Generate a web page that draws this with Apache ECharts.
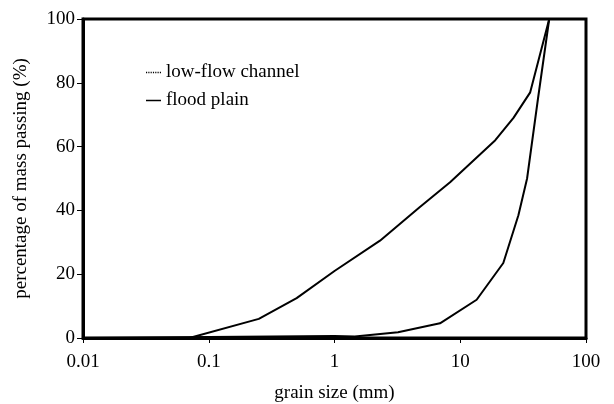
<!DOCTYPE html>
<html>
<head>
<meta charset="utf-8">
<script src="https://cdn.jsdelivr.net/npm/echarts@6/dist/echarts.min.js"></script>
<style>
  html, body { margin: 0; padding: 0; background: #fff; }
  #chart { width: 614px; height: 404px; }
</style>
</head>
<body>
<div id="chart"></div>
<script>
// grain size (mm) and % passing
var floodSize = [0.07, 0.25, 0.5, 1, 2.3, 4.75, 8.3, 19, 26.5, 36, 51];
var floodPass = [0, 6, 12.5, 21, 30.5, 41, 48.8, 62, 69, 77, 100];
var channelSize = [0.01, 1, 1.45, 3.2, 6.9, 13.5, 22, 29, 34, 41.5, 51];
var channelPass = [0, 0.6, 0.5, 1.8, 4.6, 12, 23.5, 38.5, 50, 75, 100];
var seriesNames = ['low-flow channel', 'flood plain'];
var yTicks = [0, 20, 40, 60, 80, 100];

function pairs(xs, ys) {
  return xs.map(function (x, i) { return [x, ys[i]] });
}

var font = 'Liberation Serif';
var dottedIcon = 'path://M0,0h1.2v1h-1.2zM2.4,0h1.2v1h-1.2zM4.8,0h1.2v1h-1.2zM7.2,0h1.2v1h-1.2zM9.6,0h1.2v1h-1.2zM12,0h1.2v1h-1.2zM14.4,0h1.2v1h-1.2z';
var solidIcon = 'path://M0,0h16v1h-16z';

var chart = echarts.init(document.getElementById('chart'));

var option = {
  animation: false,
  grid: {
    left: 83, right: 28, top: 19, bottom: 66,
    outerBoundsMode: 'none',
    containLabel: false,
    show: true, borderColor: '#000', borderWidth: 3
  },
  legend: {
    orient: 'vertical',
    left: 141, top: 58,
    itemWidth: 15, itemHeight: 1.5, itemGap: 9,
    symbolKeepAspect: false,
    textStyle: { fontFamily: font, fontSize: 19, color: '#000', lineHeight: 19 },
    data: [
      { name: seriesNames[0], icon: dottedIcon, itemStyle: { color: '#000' } },
      { name: seriesNames[1], icon: solidIcon, itemStyle: { color: '#000' } }
    ]
  },
  xAxis: {
    type: 'log',
    logBase: 10,
    min: 0.01, max: 100,
    name: 'grain size (mm)',
    nameLocation: 'middle',
    nameGap: 46,
    nameTextStyle: { fontFamily: font, fontSize: 19, color: '#000' },
    axisLine: { lineStyle: { color: '#000', width: 3 } },
    axisTick: { show: true, length: 5, lineStyle: { color: '#000', width: 1 } },
    axisLabel: {
      fontFamily: font, fontSize: 19, color: '#000', margin: 15,
      formatter: function (v) { return String(v) }
    },
    splitLine: { show: false }
  },
  yAxis: {
    type: 'value',
    min: 0, max: 100, interval: 20,
    name: 'percentage of mass passing (%)',
    nameLocation: 'middle',
    nameGap: 52,
    nameTextStyle: { fontFamily: font, fontSize: 19, color: '#000' },
    axisLine: { lineStyle: { color: '#000', width: 3 } },
    axisTick: { show: true, length: 6, lineStyle: { color: '#000', width: 1 } },
    axisLabel: {
      fontFamily: font, fontSize: 19, color: '#000', margin: 8,
      formatter: function (v) { return yTicks.indexOf(v) >= 0 ? String(v) : '' }
    },
    splitLine: { show: false }
  },
  series: [
    {
      name: seriesNames[0],
      type: 'line',
      data: pairs(channelSize, channelPass),
      showSymbol: false,
      symbol: 'none',
      lineStyle: { color: '#000', width: 2 },
      itemStyle: { color: '#000' }
    },
    {
      name: seriesNames[1],
      type: 'line',
      data: pairs(floodSize, floodPass),
      showSymbol: false,
      symbol: 'none',
      lineStyle: { color: '#000', width: 2 },
      itemStyle: { color: '#000' }
    }
  ]
};

chart.setOption(option);
</script>
</body>
</html>
